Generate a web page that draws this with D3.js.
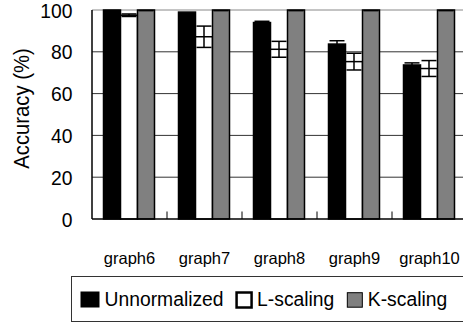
<!DOCTYPE html>
<html>
<head>
<meta charset="utf-8">
<script src="https://cdn.jsdelivr.net/npm/d3@7"></script>
<style>
  body { margin: 0; background: #fff; }
  text { font-family: "Liberation Sans", Arial, sans-serif; fill: #000; }
</style>
</head>
<body>
<svg width="463" height="326"></svg>
<script>
var categories = ["graph6", "graph7", "graph8", "graph9", "graph10"];
var seriesNames = ["Unnormalized", "L-scaling", "K-scaling"];
var unnormalized = [100, 99, 94, 83.7, 73.7];
var unnormalizedErr = [0.3, 0, 0.6, 1.6, 1];
var lScaling = [97.5, 87.2, 81.2, 75.3, 72];
var lScalingErr = [0.6, 5.1, 3.8, 4, 3.8];
var kScaling = [100, 100, 100, 100, 100];
var kScalingErr = [0.3, 0.3, 0.3, 0.3, 0.3];
var yTicks = [0, 20, 40, 60, 80, 100];

var colors = ["#000", "#fff", "#808080"];

var svg = d3.select("svg"),
    plotLeft = 92, plotTop = 10, plotBottom = 219, plotRight = 467;

var x0 = d3.scaleBand().domain(categories).range([plotLeft, plotRight]);
var x1 = d3.scaleBand().domain(seriesNames).range([11.5, 62.5]);
var y = d3.scaleLinear().domain([0, 100]).range([plotBottom, plotTop]);

var data = categories.map(function(c, i) {
  return {
    cat: c,
    vals: [
      {s: seriesNames[0], v: unnormalized[i], e: unnormalizedErr[i]},
      {s: seriesNames[1], v: lScaling[i], e: lScalingErr[i]},
      {s: seriesNames[2], v: kScaling[i], e: kScalingErr[i]}
    ]
  };
});

// gridlines
svg.append("g").selectAll("line")
    .data(yTicks.filter(function(d) { return d > 0; }))
  .enter().append("line")
    .attr("x1", plotLeft).attr("x2", 463)
    .attr("y1", function(d) { return y(d); })
    .attr("y2", function(d) { return y(d); })
    .attr("stroke", function(d) { return d == 100 ? "#888" : "#333"; })
    .attr("stroke-width", 1);

// bars
var group = svg.append("g").selectAll("g")
    .data(data)
  .enter().append("g")
    .attr("transform", function(d) { return "translate(" + x0(d.cat) + ",0)"; });

group.selectAll("rect")
    .data(function(d) { return d.vals; })
  .enter().append("rect")
    .attr("x", function(d) { return x1(d.s); })
    .attr("y", function(d) { return y(d.v); })
    .attr("width", x1.bandwidth())
    .attr("height", function(d) { return plotBottom - y(d.v); })
    .attr("fill", function(d, i) { return colors[i]; })
    .attr("stroke", "#000")
    .attr("stroke-width", 1.5);

// error bars
var err = group.selectAll("g.err")
    .data(function(d) { return d.vals.filter(function(v) { return v.e > 0; }); })
  .enter().append("g")
    .attr("class", "err")
    .attr("stroke", "#000")
    .attr("stroke-width", 1.5);

err.append("line")
    .attr("x1", function(d) { return x1(d.s) + x1.bandwidth() / 2; })
    .attr("x2", function(d) { return x1(d.s) + x1.bandwidth() / 2; })
    .attr("y1", function(d) { return y(d.v - d.e); })
    .attr("y2", function(d) { return y(Math.min(100, d.v + d.e)); });

[1, -1].forEach(function(sign) {
  err.filter(function(d) { return d.v + sign * d.e <= 100; })
    .append("line")
      .attr("x1", function(d) { return x1(d.s) + 1; })
      .attr("x2", function(d) { return x1(d.s) + x1.bandwidth() - 1; })
      .attr("y1", function(d) { return y(d.v + sign * d.e); })
      .attr("y2", function(d) { return y(d.v + sign * d.e); });
});

// axes
svg.append("line")
    .attr("x1", plotLeft).attr("x2", plotLeft)
    .attr("y1", plotTop).attr("y2", plotBottom)
    .attr("stroke", "#000").attr("stroke-width", 1.5);
svg.append("line")
    .attr("x1", plotLeft).attr("x2", 463)
    .attr("y1", plotBottom).attr("y2", plotBottom)
    .attr("stroke", "#000").attr("stroke-width", 1.5);

// category ticks at group boundaries
svg.append("g").selectAll("line")
    .data(categories)
  .enter().append("line")
    .attr("x1", function(d) { return x0(d) + x0.bandwidth(); })
    .attr("x2", function(d) { return x0(d) + x0.bandwidth(); })
    .attr("y1", plotBottom).attr("y2", plotBottom - 7.5)
    .attr("stroke", "#000");

svg.append("g").selectAll("text")
    .data(yTicks)
  .enter().append("text")
    .attr("transform", function(d) { return "translate(72.5," + y(d) + ") scale(0.92,1)"; })
    .attr("dy", "0.36em")
    .attr("text-anchor", "end")
    .style("font-size", "21px")
    .text(function(d) { return d; });

svg.append("g").selectAll("text")
    .data(categories)
  .enter().append("text")
    .attr("x", function(d) { return x0(d) + x0.bandwidth() / 2; })
    .attr("y", 263.5)
    .attr("text-anchor", "middle")
    .style("font-size", "16.5px")
    .text(function(d) { return d; });

svg.append("text")
    .attr("transform", "translate(29,108.5) rotate(-90) scale(0.9,1)")
    .attr("text-anchor", "middle")
    .style("font-size", "22.5px")
    .text("Accuracy (%)");

// legend
var legend = svg.append("g");
legend.append("rect")
    .attr("x", 71.5).attr("y", 276.5)
    .attr("width", 420).attr("height", 45)
    .attr("fill", "#fff").attr("stroke", "#333");

var lx = 81;
var swatches = [
  {w: 18, h: 15, y: 292, sw: 1},
  {w: 15, h: 15, y: 292.5, sw: 2.5},
  {w: 15, h: 14.5, y: 292.7, sw: 1}
];
seriesNames.forEach(function(name, i) {
  var s = swatches[i];
  legend.append("rect")
      .attr("x", lx).attr("y", s.y)
      .attr("width", s.w).attr("height", s.h)
      .attr("fill", colors[i])
      .attr("stroke", "#000").attr("stroke-width", s.sw);
  lx += s.w + 5.5;
  var t = legend.append("text")
      .attr("transform", "translate(" + lx + ",306) scale(0.92,1)")
      .style("font-size", "21px")
      .text(name);
  lx += t.node().getComputedTextLength() * 0.92 + 13;
});
</script>
</body>
</html>
